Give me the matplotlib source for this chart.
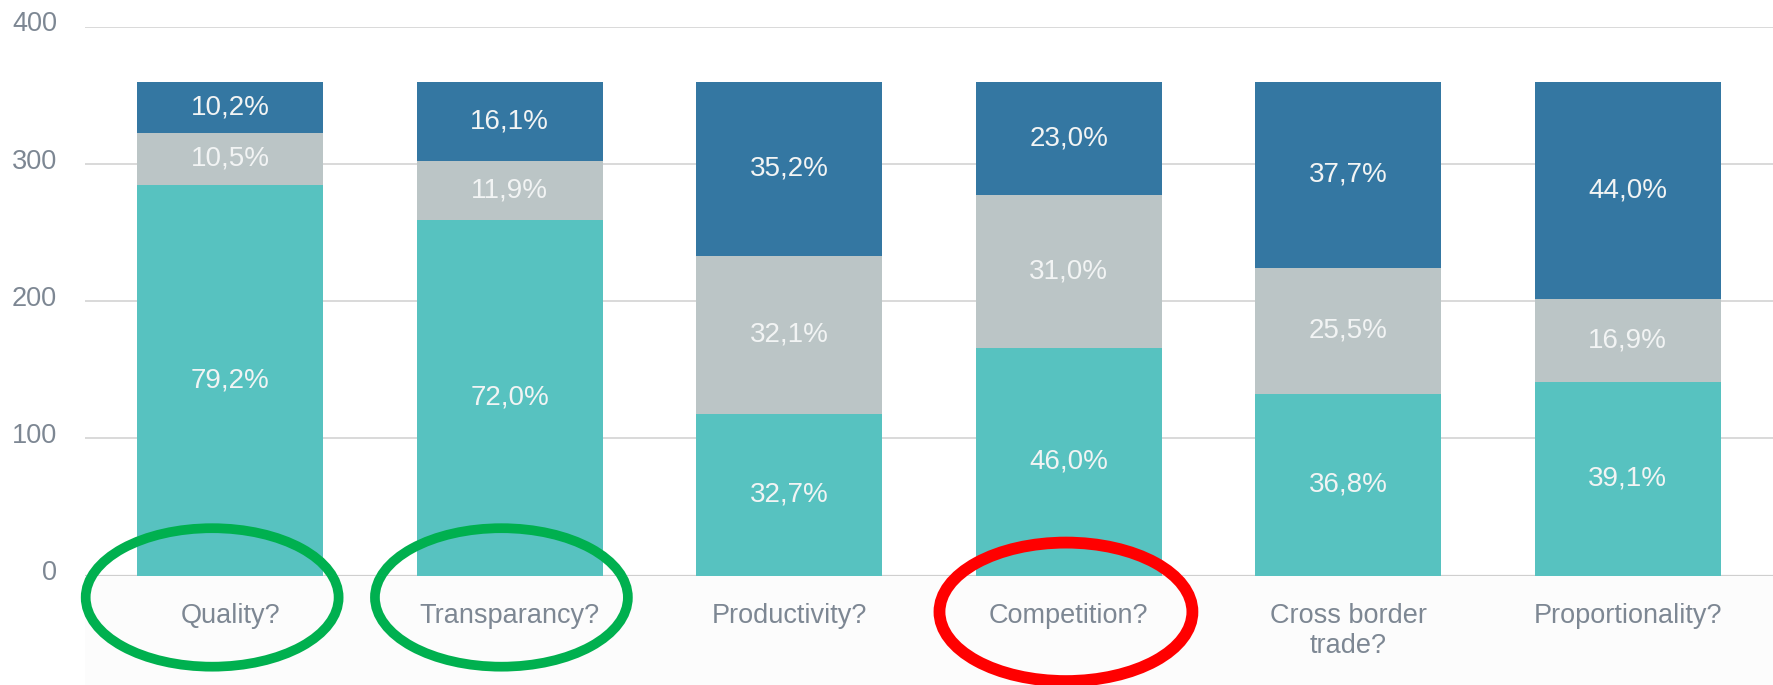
import matplotlib
matplotlib.use('Agg')
import matplotlib.pyplot as plt
import matplotlib.transforms as mtransforms
from matplotlib.patches import Ellipse, Rectangle
import numpy as np

plt.rcParams['font.family'] = ['Liberation Sans', 'DejaVu Sans']

categories = ['Quality?', 'Transparancy?', 'Productivity?', 'Competition?',
              'Cross border\ntrade?', 'Proportionality?']
# share of answers per bar, bottom -> top
pct_bottom = [79.2, 72.0, 32.7, 46.0, 36.8, 39.1]
pct_middle = [10.5, 11.9, 32.1, 31.0, 25.5, 16.9]
pct_top = [10.2, 16.1, 35.2, 23.0, 37.7, 44.0]
respondents = 360
y_ticks = [0, 100, 200, 300, 400]
# circled categories
highlights = [(0, '#00b04f'), (1, '#00b04f'), (3, '#ff0000')]

colors = ['#57c2c0', '#bbc5c6', '#3477a2']
label_color = '#f2f4f4'
axis_text = '#7d8793'

W, H = 1773, 685
fig = plt.figure(figsize=(W / 100, H / 100), dpi=100)
ax_left, ax_bottom = 85 / W, 109.5 / H
ax = fig.add_axes([ax_left, ax_bottom, 1 - ax_left, 548.5 / H])

# faint band under the baseline
ax.add_patch(Rectangle((0, -0.25), 1, 0.25, transform=ax.transAxes, facecolor='#fcfcfc',
                       edgecolor='none', clip_on=False, zorder=0))

x = np.arange(len(categories))
bottom = np.zeros(len(categories))
for pct, color in zip([pct_bottom, pct_middle, pct_top], colors):
    heights = np.array(pct) / 100 * respondents
    ax.bar(x, heights, bottom=bottom, width=0.665, color=color, zorder=3)
    for xi, b, h, p in zip(x, bottom, heights, pct):
        ax.text(xi, b + h / 2, f'{p:.1f}'.replace('.', ',') + '%', ha='center', va='center',
                fontsize=20, color=label_color, zorder=4)
    bottom += heights

ax.set_xlim(-0.52, 5.52)
ax.set_ylim(0, 400)
ax.set_yticks(y_ticks)
for yt in y_ticks[1:]:
    ax.axhline(yt, color='#d9d9d9', lw=1.4, zorder=1)
ax.axhline(0, color='#cfcfcf', lw=1.6, zorder=2)

for s in ax.spines.values():
    s.set_visible(False)
ax.tick_params(axis='y', length=0, pad=20, labelsize=19.5, labelcolor=axis_text)
offset = mtransforms.ScaledTranslation(0, 4 / 72, fig.dpi_scale_trans)
for lab in ax.get_yticklabels():
    lab.set_transform(lab.get_transform() + offset)

ax.set_xticks(x, categories)
ax.tick_params(axis='x', length=0, pad=20, labelsize=19.5, labelcolor=axis_text)

ring_shift = {0: -0.065, 1: -0.03, 3: -0.01}
for idx, color in highlights:
    lw = 8.5 if color == '#ff0000' else 7
    yc = -26.5 if color == '#ff0000' else -16
    ax.add_patch(Ellipse((idx + ring_shift[idx], yc), 0.905, 101, fill=False,
                         edgecolor=color, lw=lw, clip_on=False, zorder=5))

fig.savefig('out.png', dpi=100)
